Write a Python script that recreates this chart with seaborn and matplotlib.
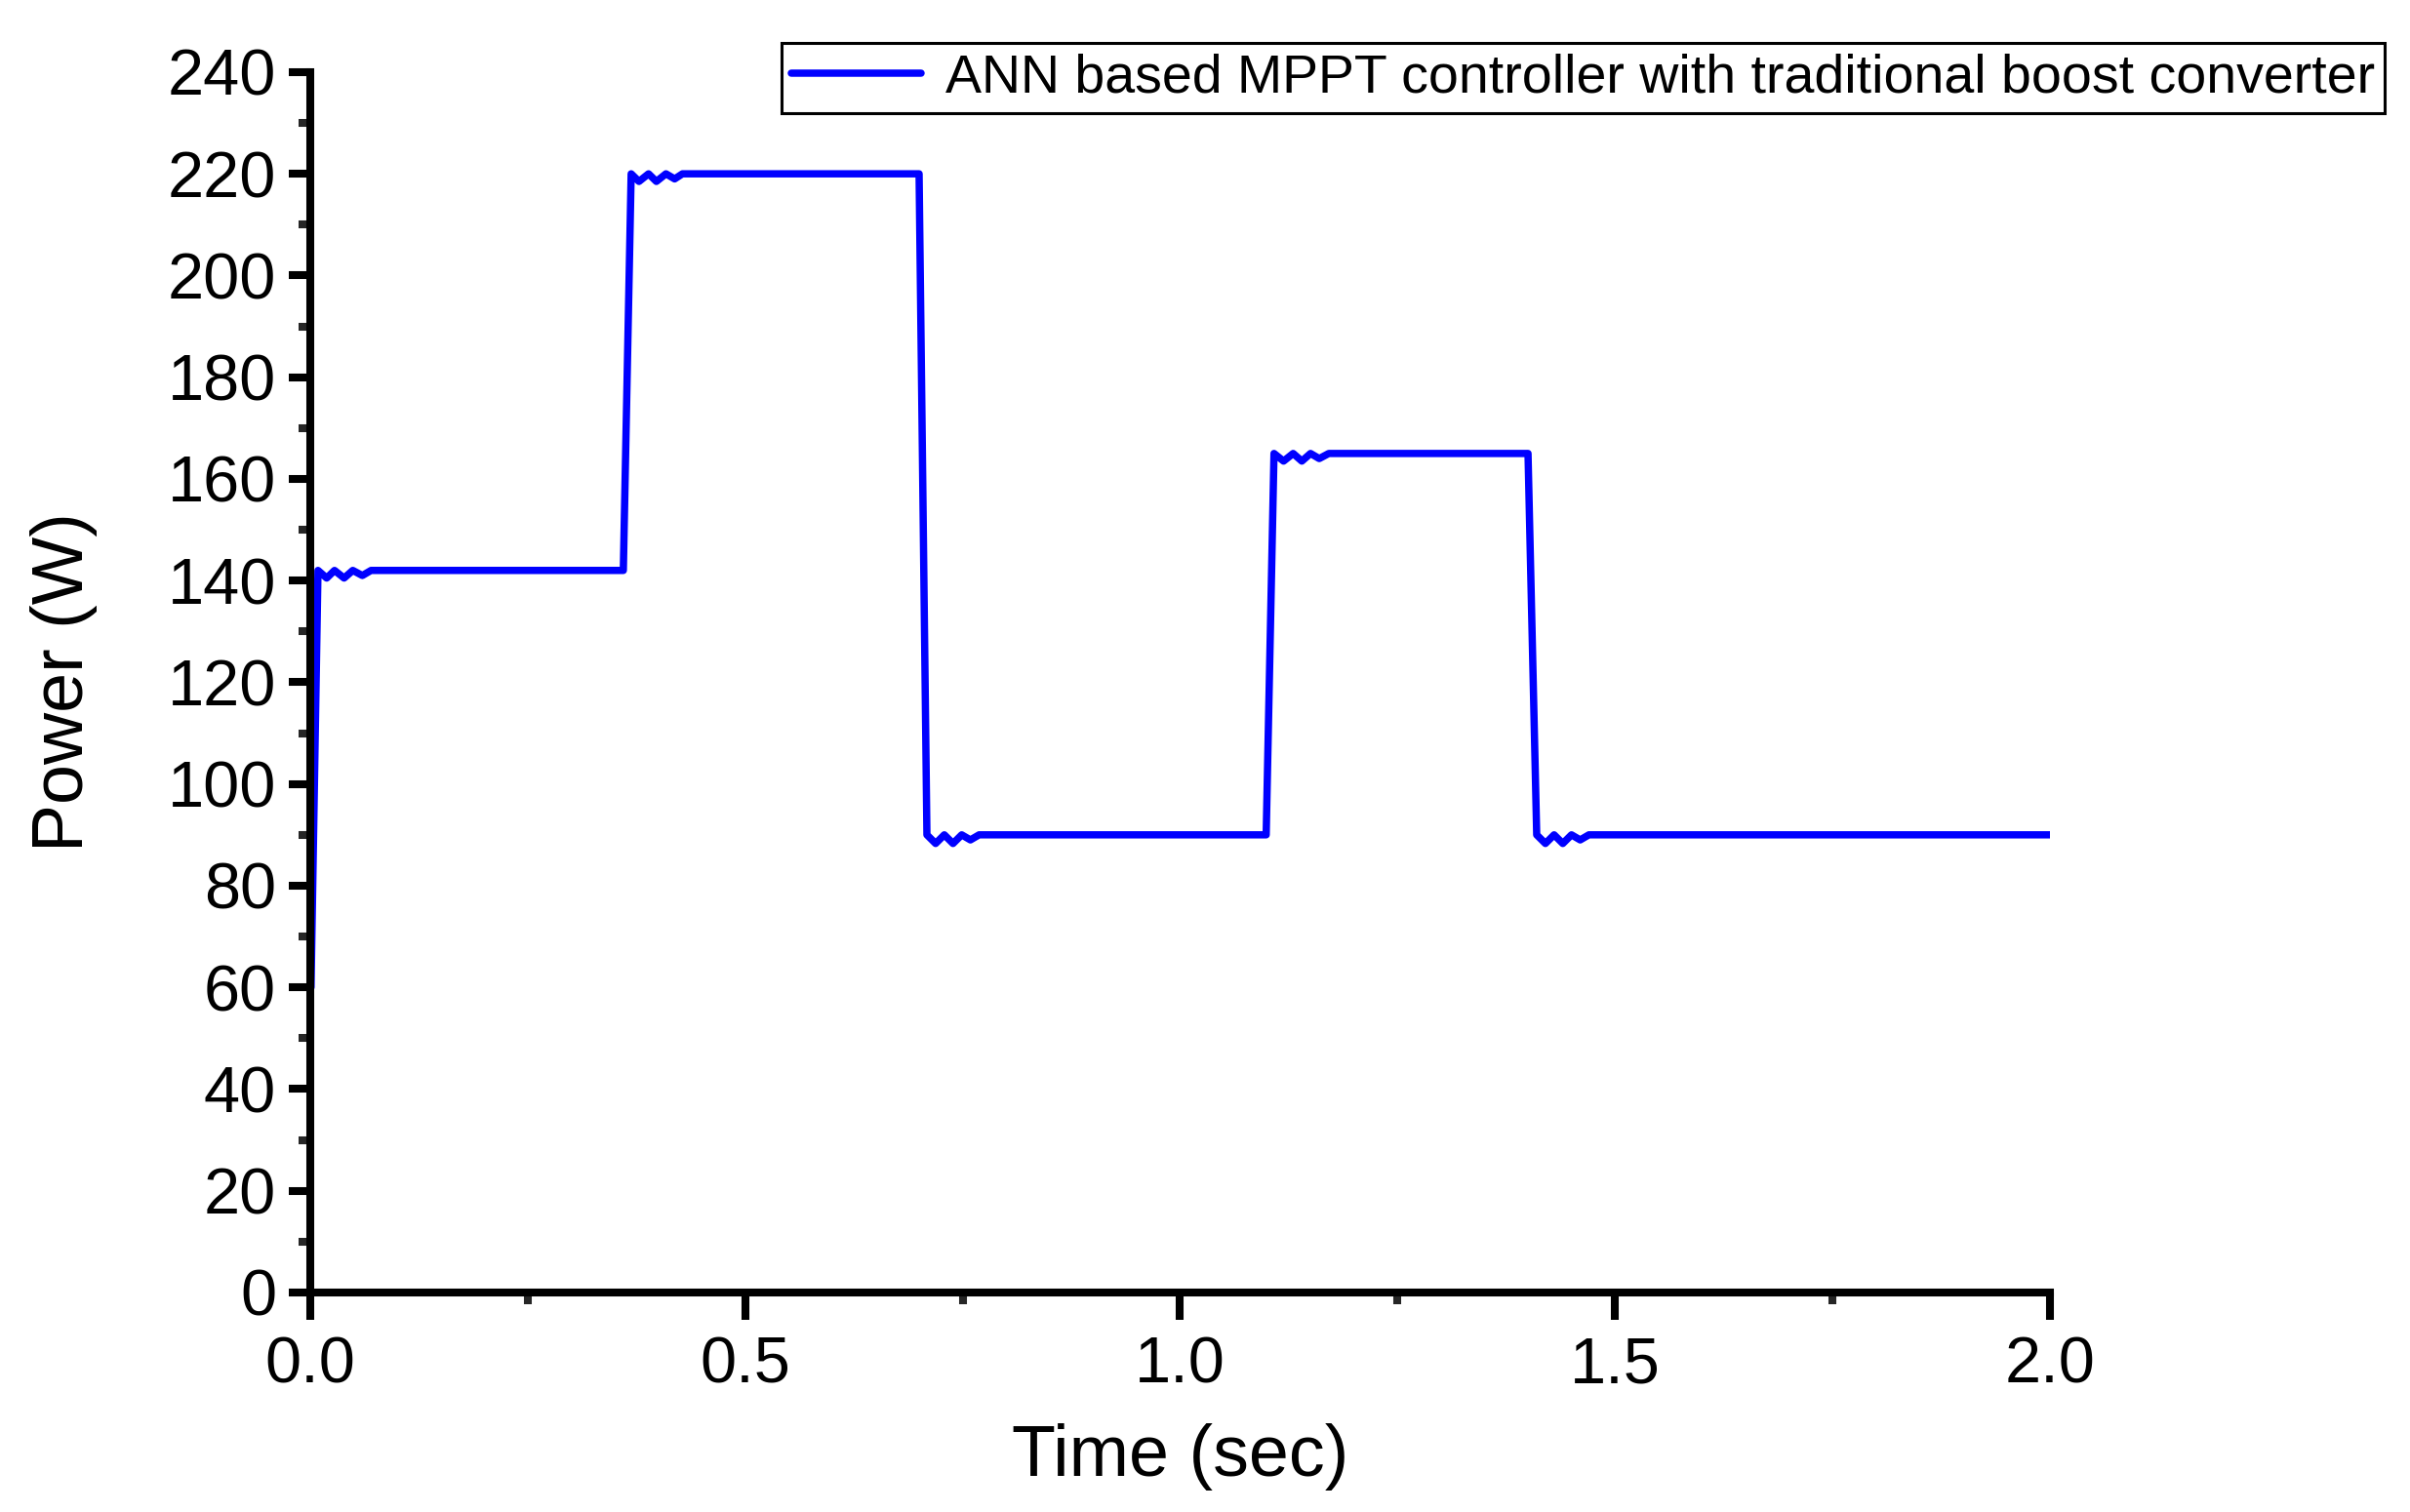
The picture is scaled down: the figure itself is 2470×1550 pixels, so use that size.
import matplotlib
matplotlib.use("Agg")
import matplotlib.pyplot as plt
import seaborn as sns
import pandas as pd
from matplotlib.ticker import MultipleLocator

# values (time in s, power in W)
time_s = [0.001, 0.009, 0.019, 0.028, 0.039, 0.049, 0.060, 0.070,
          0.360, 0.369, 0.378, 0.389, 0.398, 0.409, 0.419, 0.428,
          0.700, 0.709, 0.719, 0.729, 0.739, 0.749, 0.759, 0.769,
          1.099, 1.108, 1.119, 1.130, 1.140, 1.150, 1.160, 1.171,
          1.400, 1.410, 1.420, 1.430, 1.440, 1.450, 1.460, 1.470, 2.000]
power_w = [60, 142, 140.5, 142, 140.5, 142, 141, 142,
           142, 220, 218.5, 220, 218.5, 220, 219, 220,
           220, 90, 88.3, 90, 88.3, 90, 89, 90,
           90, 165, 163.5, 165, 163.5, 165, 164, 165,
           165, 90, 88.3, 90, 88.3, 90, 89, 90, 90]
series_label = "ANN based MPPT controller with traditional boost converter"

df = pd.DataFrame({"time": time_s, "power": power_w})

sns.set_style("ticks")
plt.rcParams["font.family"] = ["Liberation Sans", "DejaVu Sans"]
plt.rcParams["text.color"] = "black"
plt.rcParams["axes.labelcolor"] = "black"

fig = plt.figure(figsize=(12.35, 7.75), dpi=200)
ax = fig.add_axes([0.1287, 0.1452, 0.7219, 0.8071])

sns.lineplot(x="time", y="power", data=df, ax=ax, color="#0000ff",
             linewidth=2.7, estimator=None, sort=False, label=series_label)

ax.set_xlim(0, 2)
ax.set_ylim(0, 240)
ax.xaxis.set_major_locator(MultipleLocator(0.5))
ax.xaxis.set_minor_locator(MultipleLocator(0.25))
ax.yaxis.set_major_locator(MultipleLocator(20))
ax.yaxis.set_minor_locator(MultipleLocator(10))
ax.set_xticklabels([f"{v:.1f}" for v in ax.get_xticks()])

sns.despine(ax=ax)
for s in ["left", "bottom"]:
    ax.spines[s].set_linewidth(2.9)
    ax.spines[s].set_color("black")

ax.tick_params(axis="both", which="major", direction="out", width=2.9,
               labelsize=24, colors="black")
ax.tick_params(axis="x", which="major", length=10, pad=6)
ax.tick_params(axis="y", which="major", length=8, pad=4.5)
ax.tick_params(axis="both", which="minor", direction="out", width=2.9, length=4.3)

ax.set_xlabel("Time (sec)", fontsize=26.5, labelpad=10)
ax.set_ylabel("Power (W)", fontsize=26.5, labelpad=26)

leg = ax.legend(loc="upper right", bbox_to_anchor=(0.9895, 0.9716),
                bbox_transform=fig.transFigure, fontsize=20, frameon=True,
                fancybox=False, framealpha=1, edgecolor="black",
                handlelength=2.4, borderpad=0.18, handletextpad=0.45,
                borderaxespad=0)
leg.get_frame().set_linewidth(1.1)
for line in leg.get_lines():
    line.set_linewidth(2.7)

fig.savefig("out.png", dpi=200, facecolor="white")
plt.close(fig)
